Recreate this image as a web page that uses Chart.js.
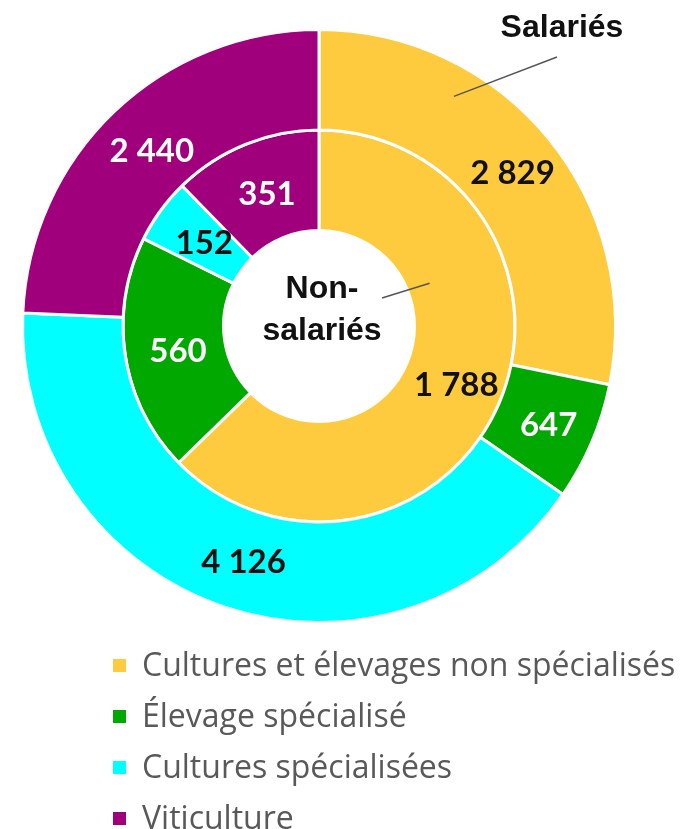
<!DOCTYPE html>
<html lang="fr">
<head>
<meta charset="utf-8">
<title>Salariés / non-salariés par orientation</title>
<script src="https://cdn.jsdelivr.net/npm/chart.js@4.4.1/dist/chart.umd.min.js"></script>
<style>
  html, body { margin: 0; padding: 0; background: #fff; }
  #wrap { position: relative; width: 689px; height: 829px; overflow: hidden; }
  #chart { position: absolute; left: 0; top: 0; }
  #legend {
    position: absolute; left: 113px; top: 638px; margin: 0; padding: 0;
    list-style: none; font-family: "Open Sans", sans-serif; font-size: 32px; color: #595959;
  }
  #legend li { height: 51px; line-height: 51px; white-space: nowrap; }
  #legend .box { display: inline-block; width: 13px; height: 13px; margin-right: 16px; vertical-align: middle; position: relative; top: -2px; }
</style>
</head>
<body>
<div id="wrap">
  <canvas id="chart" width="689" height="829"></canvas>
  <ul id="legend"></ul>
</div>
<script>
// data
const categories = ["Cultures et élevages non spécialisés", "Élevage spécialisé", "Cultures spécialisées", "Viticulture"];
const salaries = [2829, 647, 4126, 2440];
const nonSalaries = [1788, 560, 152, 351];
const ringNames = ["Salariés", "Non-salariés"];

// styles
const colors = ["#FECB3F", "#00A800", "#00FFFF", "#A0007B"];
const valueColors = ["#111", "#fff", "#111", "#fff"];

// "2829" -> "2 829"
const fmt = v => String(v).replace(/\B(?=(\d{3})+(?!\d))/g, " ");

// value labels at the middle of each arc + ring names with leader lines
const ringLabels = {
  id: "ringLabels",
  afterDatasetsDraw(chart) {
    const ctx = chart.ctx;
    ctx.save();
    ctx.textAlign = "center";
    ctx.textBaseline = "middle";
    ctx.font = "bold 33px Lato";
    chart.data.datasets.forEach((ds, di) => {
      chart.getDatasetMeta(di).data.forEach((arc, i) => {
        const p = arc.tooltipPosition();
        ctx.fillStyle = valueColors[i];
        ctx.fillText(fmt(ds.data[i]), p.x + 3, p.y + 3);
      });
    });

    // point inside the first arc of a ring, as fractions of angle and thickness
    const inArc = (arc, fa, fr) => {
      const a = arc.startAngle + fa * (arc.endAngle - arc.startAngle);
      const r = arc.innerRadius + fr * (arc.outerRadius - arc.innerRadius);
      return { x: arc.x + r * Math.cos(a), y: arc.y + r * Math.sin(a) };
    };
    const outer = chart.getDatasetMeta(0).data[0];
    const inner = chart.getDatasetMeta(1).data[0];
    const cx = outer.x, cy = outer.y;

    ctx.strokeStyle = "#555";
    ctx.lineWidth = 1.5;
    let s = inArc(outer, 0.3, 0.7);
    ctx.beginPath(); ctx.moveTo(s.x, s.y); ctx.lineTo(cx + 238, cy - 269); ctx.stroke();
    s = inArc(inner, 0.305, 0.23);
    ctx.beginPath(); ctx.moveTo(s.x, s.y); ctx.lineTo(cx + 63, cy - 28); ctx.stroke();

    ctx.fillStyle = "#111";
    ctx.font = "bold 32px 'Liberation Sans', Arial, sans-serif";
    ctx.textBaseline = "alphabetic";
    ctx.fillText(ringNames[0], cx + 243, cy - 289);
    const [l1, l2] = ringNames[1].split("-");
    ctx.fillText(l1 + "-", cx + 3, cy - 28);
    ctx.fillText(l2, cx + 3, cy + 14);
    ctx.restore();
  }
};

new Chart(document.getElementById("chart"), {
  type: "doughnut",
  data: {
    labels: categories,
    datasets: [
      { label: ringNames[0], data: salaries, backgroundColor: colors, borderColor: "#fff", borderWidth: 3 },
      { label: ringNames[1], data: nonSalaries, backgroundColor: colors, borderColor: "#fff", borderWidth: 3 }
    ]
  },
  options: {
    responsive: false,
    animation: false,
    cutout: "32.2%",
    layout: { padding: { left: 21, top: 28, right: 72, bottom: 205 } },
    plugins: { legend: { display: false }, tooltip: { enabled: false } }
  },
  plugins: [ringLabels]
});

// legend under the chart
const legend = document.getElementById("legend");
categories.forEach((c, i) => {
  const li = document.createElement("li");
  const box = document.createElement("span");
  box.className = "box";
  box.style.background = colors[i];
  li.appendChild(box);
  li.appendChild(document.createTextNode(c));
  legend.appendChild(li);
});
</script>
</body>
</html>
